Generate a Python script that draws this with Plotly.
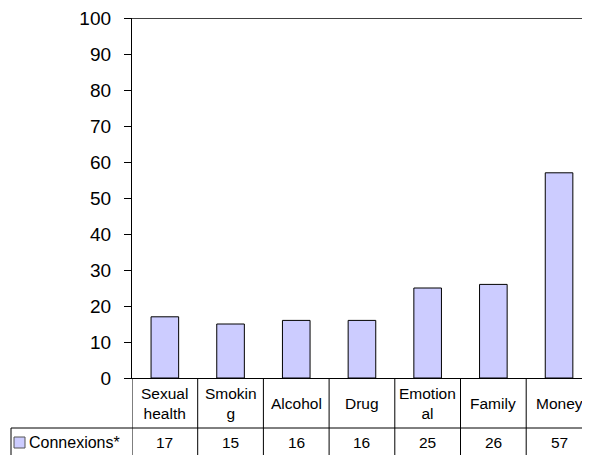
import plotly.graph_objects as go

categories = ["Sexual health", "Smoking", "Alcohol", "Drug", "Emotional", "Family", "Money"]
table_labels = ["Sexual<br>health", "Smokin<br>g", "Alcohol", "Drug", "Emotion<br>al", "Family", "Money"]
values = [17, 15, 16, 16, 25, 26, 57]
series_name = "Connexions*"
y_ticks = [0, 10, 20, 30, 40, 50, 60, 70, 80, 90, 100]

# the page body has an 8px margin, so the figure is laid out 8px in from the window edge
OFF = 8
W, H = 590 - OFF, 455 - OFF
FONT = "Liberation Sans, Arial, sans-serif"
BAR_COLOR = "#CCCCFF"

def px(xp):
    return (xp - OFF) / W

def py(yp):
    return (H - (yp - OFF)) / H

x_left, y_top, y_zero = 132, 18, 378
n = len(categories)

fig = go.Figure()
fig.add_trace(go.Bar(
    x=list(range(n)), y=values, width=0.42,
    marker=dict(color=BAR_COLOR, line=dict(color="black", width=1)),
    hoverinfo="skip", showlegend=False,
))

shapes = []
# top border line
shapes.append(dict(type="line", xref="paper", yref="y", x0=px(125), x1=1, y0=100, y1=100,
                   line=dict(color="black", width=1.3)))
# table vertical separators
for k in range(n + 1):
    shapes.append(dict(type="line", xref="x", yref="paper", x0=k - 0.5, x1=k - 0.5,
                       y0=0, y1=py(y_zero), line=dict(color="black", width=1)))
# values row top line and left border
shapes.append(dict(type="line", xref="paper", yref="paper", x0=px(11), x1=1,
                   y0=py(428), y1=py(428), line=dict(color="black", width=1)))
shapes.append(dict(type="line", xref="paper", yref="paper", x0=px(11), x1=px(11),
                   y0=0, y1=py(428), line=dict(color="black", width=1)))
# legend key
shapes.append(dict(type="rect", xref="paper", yref="paper", x0=px(14), x1=px(25),
                   y0=py(448), y1=py(437), fillcolor=BAR_COLOR, line=dict(color="#555555", width=1)))

annotations = []
for i, lab in enumerate(table_labels):
    annotations.append(dict(x=i, y=py(403), xref="x", yref="paper", text=lab, showarrow=False,
                            xanchor="center", yanchor="middle", font=dict(size=15.5, family=FONT, color="black")))
for i, v in enumerate(values):
    annotations.append(dict(x=i, y=py(442), xref="x", yref="paper", text=str(v), showarrow=False,
                            xanchor="center", yanchor="middle", font=dict(size=15.5, family=FONT, color="black")))
annotations.append(dict(x=px(27), y=py(442), xref="paper", yref="paper", text=series_name, showarrow=False,
                        xanchor="left", yanchor="middle", font=dict(size=16, family=FONT, color="black")))

total_cols = (590 - x_left) / 65.7
fig.update_layout(
    width=W, height=H,
    margin=dict(l=0, r=0, t=0, b=0, pad=0, autoexpand=False),
    paper_bgcolor="white", plot_bgcolor="white",
    font=dict(family=FONT, color="black"),
    xaxis=dict(domain=[px(x_left), 1], range=[-0.5, -0.5 + total_cols], automargin=False,
               showticklabels=False, ticks="", showgrid=False, zeroline=False,
               showline=True, linecolor="black", linewidth=1.3, fixedrange=True),
    yaxis=dict(domain=[py(y_zero), py(y_top)], range=[0, 100], tickvals=y_ticks, automargin=False,
               ticks="outside", ticklen=7, tickcolor="black", tickwidth=1,
               showgrid=False, zeroline=False, showline=True, linecolor="black", linewidth=1.3,
               tickfont=dict(size=19, family=FONT, color="black"), ticklabelstandoff=9,
               ticklabeloverflow="allow", fixedrange=True),
    shapes=shapes, annotations=annotations, bargap=0.58,
)

fig.write_html("out.html")
